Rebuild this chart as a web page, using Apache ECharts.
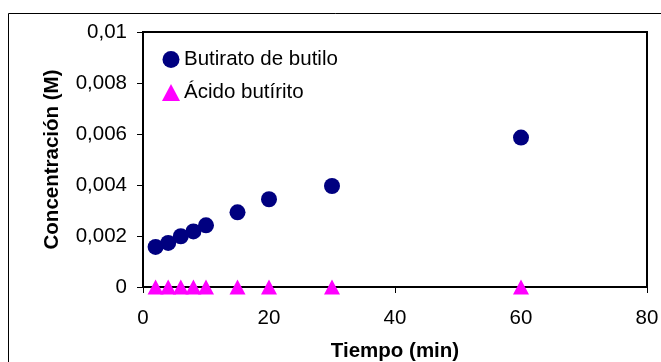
<!DOCTYPE html>
<html><head><meta charset="utf-8">
<script src="https://cdn.jsdelivr.net/npm/echarts@6/dist/echarts.min.js"></script>
<style>html,body{margin:0;padding:0;background:#fff}#c{width:661px;height:362px}</style>
</head><body><div id="c"></div>
<script>
const tiempo = [2, 4, 6, 8, 10, 15, 20, 30, 60];
const butirato = [0.00157, 0.00173, 0.00199, 0.00218, 0.00242, 0.00293, 0.00344, 0.00396, 0.00586];
const acido = [0, 0, 0, 0, 0, 0, 0, 0, 0];
const seriesNames = ['Butirato de butilo', 'Ácido butírito'];

const chart = echarts.init(document.getElementById('c'));
const font = 'Liberation Sans, Arial, sans-serif';
const fs = 20.5;
chart.setOption({
  animation: false,
  backgroundColor: '#fff',
  graphic: [{
    type: 'rect', shape: {x: 8.5, y: 13.5, width: 700, height: 400},
    style: {fill: 'none', stroke: '#000', lineWidth: 1}, z: -1
  }],
  grid: {left: 143, top: 32, right: 14, bottom: 75, containLabel: false, outerBoundsMode: 'none',
    show: true, borderColor: '#000', borderWidth: 2, backgroundColor: 'transparent'},
  legend: {
    orient: 'vertical', left: 157, top: 44, itemGap: 12, itemWidth: 18, itemHeight: 17,
    textStyle: {fontFamily: font, fontSize: fs, color: '#000', padding: [0,0,0,-1]},
    data: seriesNames.map(n => ({name: n}))
  },
  xAxis: {
    type: 'value', min: 0, max: 80, interval: 20,
    name: 'Tiempo (min)', nameLocation: 'middle', nameGap: 54,
    nameTextStyle: {fontFamily: font, fontSize: fs, fontWeight: 'bold', color: '#000'},
    axisLine: {show: true, lineStyle: {color: '#000', width: 2}},
    axisTick: {show: true, length: 6, lineStyle: {color: '#000', width: 1}},
    axisLabel: {fontFamily: font, fontSize: fs, color: '#000', margin: 21},
    splitLine: {show: false}
  },
  yAxis: {
    type: 'value', min: 0, max: 0.01, interval: 0.002,
    name: 'Concentración (M)', nameLocation: 'middle', nameGap: 80,
    nameTextStyle: {fontFamily: font, fontSize: fs, fontWeight: 'bold', color: '#000'},
    axisLine: {show: true, lineStyle: {color: '#000', width: 2}},
    axisTick: {show: true, length: 6, lineStyle: {color: '#000', width: 1}},
    axisLabel: {fontFamily: font, fontSize: fs, color: '#000', margin: 16,
      formatter: v => v === 0 ? '0' : parseFloat(v.toFixed(3)).toString().replace('.', ',')},
    splitLine: {show: false}
  },
  series: [
    {name: seriesNames[0], type: 'scatter', symbol: 'circle', symbolSize: 16, clip: false,
     itemStyle: {color: '#000080', opacity: 1},
     data: tiempo.map((t, i) => [t, butirato[i]])},
    {name: seriesNames[1], type: 'scatter', symbol: 'triangle', symbolSize: [16, 15], clip: false,
     itemStyle: {color: '#ff00ff', opacity: 1},
     data: tiempo.map((t, i) => [t, acido[i]])}
  ]
});
</script></body></html>
